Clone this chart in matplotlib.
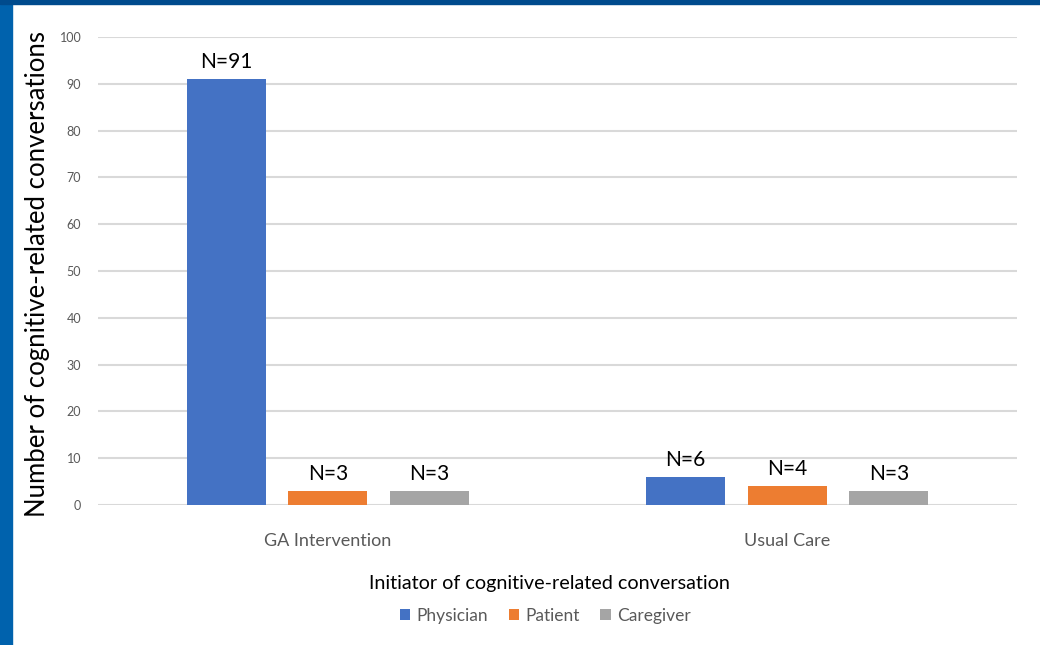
import matplotlib.pyplot as plt
import matplotlib.patches as mpatches
import numpy as np

groups = ['GA Intervention', 'Usual Care']
initiators = ['Physician', 'Patient', 'Caregiver']
physician = [91, 6]
patient = [3, 4]
caregiver = [3, 3]
colors = ['#4472C4', '#ED7D31', '#A5A5A5']

plt.rcParams['font.family'] = ['Lato', 'DejaVu Sans']

fig = plt.figure(figsize=(10.4, 6.45), dpi=100)
fig.patch.set_facecolor('white')

# blue slide frame along the left and top edges
fig.patches.append(mpatches.Rectangle((0, 0), 12 / 1040, 1, transform=fig.transFigure,
                                      color='#0062ad', zorder=0))
fig.patches.append(mpatches.Rectangle((0, 1 - 4 / 645), 1, 4 / 645, transform=fig.transFigure,
                                      color='#004b8d', zorder=0))

ax = fig.add_axes([98 / 1040, 1 - 505 / 645, (1017 - 98) / 1040, (505 - 37) / 645])

x = np.arange(len(groups))
barWidth = 0.172
step = 0.221
series = [physician, patient, caregiver]
for i, (vals, name, c) in enumerate(zip(series, initiators, colors)):
    pos = x + (i - 1) * step
    ax.bar(pos, vals, width=barWidth, color=c, label=name, zorder=3)
    for a, b in zip(pos, vals):
        ax.annotate('N=%d' % b, (a, b), xytext=(0, 5), textcoords='offset points',
                    ha='center', va='bottom', fontsize=15, color='black',
                    family=['Liberation Sans Narrow', 'Lato', 'DejaVu Sans'])

ax.set_xlim(-0.5, 1.5)
ax.set_ylim(0, 100)
ax.set_yticks(range(0, 101, 10))
ax.yaxis.grid(True, color='#d9d9d9', linewidth=1.5, zorder=0)
ax.set_axisbelow(True)
for s in ax.spines.values():
    s.set_visible(False)
ax.tick_params(axis='both', length=0)
ax.tick_params(axis='y', labelsize=9, colors='#595959', pad=12)
ax.set_xticks(x)
ax.set_xticklabels(groups, fontsize=13, color='#595959')
ax.tick_params(axis='x', pad=20)

fig.text(38 / 1040, 1 - 274 / 645, 'Number of cognitive-related conversations',
         rotation=90, ha='center', va='center', fontsize=18.5, color='black')
fig.text(549 / 1040, 1 - 583 / 645, 'Initiator of cognitive-related conversation',
         ha='center', va='center', fontsize=14.2, color='black')

leg = fig.legend(loc='center', bbox_to_anchor=(545 / 1040, 1 - 616 / 645), ncol=3,
                 frameon=False, fontsize=12.5, handlelength=0.6, handleheight=0.6,
                 handletextpad=0.35, columnspacing=1.2)
for t in leg.get_texts():
    t.set_color('#595959')

fig.savefig('out.png', dpi=100)
